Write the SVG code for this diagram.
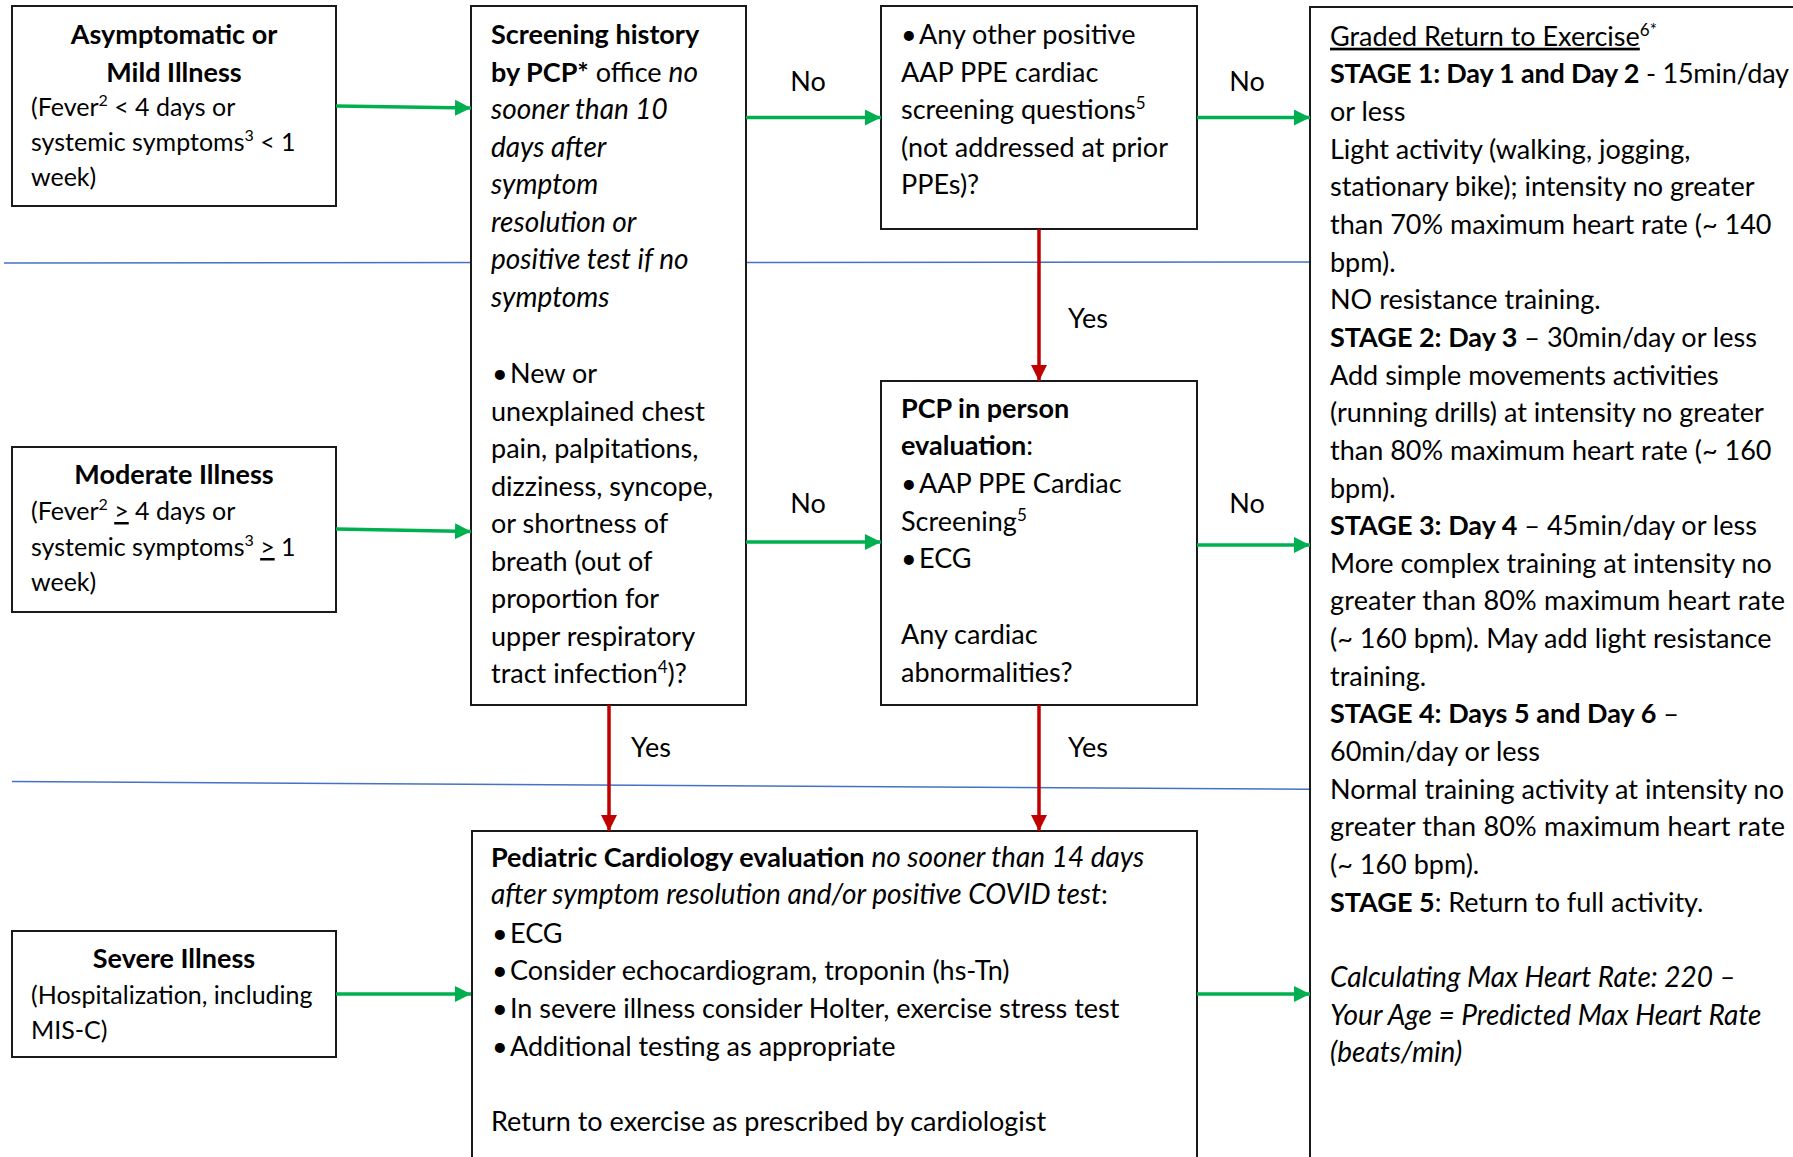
<svg xmlns="http://www.w3.org/2000/svg" width="1793" height="1157" viewBox="0 0 1793 1157">
<style>
  text { font-family: Lato, "Open Sans", sans-serif; font-size: 27px; fill: #000; }
  .b { font-weight: bold; }
  .i { font-style: italic; font-size: 28px; }
  .sm { font-size: 25px; }
  .box { fill: #fff; stroke: #1a1a1a; stroke-width: 2; }
  .blue { stroke: #4472C4; stroke-width: 1.5; fill: none; }
  .g { stroke: #00B050; stroke-width: 3.5; fill: none; marker-end: url(#ag); }
  .r { stroke: #C00000; stroke-width: 3.5; fill: none; marker-end: url(#ar); }
</style>
<defs>
  <marker id="ag" markerUnits="userSpaceOnUse" markerWidth="16" markerHeight="16" refX="16" refY="8" orient="auto">
    <path d="M0,0 L16,8 L0,16 Z" fill="#00B050"/>
  </marker>
  <marker id="ar" markerUnits="userSpaceOnUse" markerWidth="16" markerHeight="16" refX="16" refY="8" orient="auto">
    <path d="M0,0 L16,8 L0,16 Z" fill="#C00000"/>
  </marker>
</defs>
<rect width="1793" height="1157" fill="#fff"/>

<g id="guides">
  <line class="blue" x1="4" y1="263" x2="1310" y2="262"/>
  <line class="blue" x1="12" y1="781.5" x2="1310" y2="789.3"/>
</g>

<g id="node-mild">
  <rect class="box" x="12" y="6" width="324" height="200"/>
  <text class="b" x="174" y="44" text-anchor="middle">Asymptomatic or</text>
  <text class="b" x="174" y="82" text-anchor="middle">Mild Illness</text>
  <text class="sm" x="31" y="116">(Fever<tspan dy="-10" font-size="16">2</tspan><tspan dy="10"> &lt; 4 days or</tspan></text>
  <text class="sm" x="31" y="151">systemic symptoms<tspan dy="-10" font-size="16">3</tspan><tspan dy="10"> &lt; 1</tspan></text>
  <text class="sm" x="31" y="186">week)</text>
</g>

<g id="node-moderate">
  <rect class="box" x="12" y="447" width="324" height="165"/>
  <text class="b" x="174" y="484" text-anchor="middle">Moderate Illness</text>
  <text class="sm" x="31" y="520">(Fever<tspan dy="-10" font-size="16">2</tspan><tspan dy="10"> </tspan><tspan text-decoration="underline">&gt;</tspan> 4 days or</text>
  <text class="sm" x="31" y="556">systemic symptoms<tspan dy="-10" font-size="16">3</tspan><tspan dy="10"> </tspan><tspan text-decoration="underline">&gt;</tspan> 1</text>
  <text class="sm" x="31" y="591">week)</text>
</g>

<g id="node-severe">
  <rect class="box" x="12" y="931" width="324" height="126"/>
  <text class="b" x="174" y="968" text-anchor="middle">Severe Illness</text>
  <text class="sm" x="31" y="1004">(Hospitalization, including</text>
  <text class="sm" x="31" y="1039">MIS-C)</text>
</g>

<g id="node-screening">
  <rect class="box" x="471" y="6" width="275" height="699"/>
  <text class="b" x="491" y="44">Screening history</text>
  <text x="491" y="82"><tspan class="b">by PCP*</tspan> office <tspan class="i">no</tspan></text>
  <text class="i" x="491" y="119">sooner than 10</text>
  <text class="i" x="491" y="157">days after</text>
  <text class="i" x="491" y="194">symptom</text>
  <text class="i" x="491" y="232">resolution or</text>
  <text class="i" x="491" y="269">positive test if no</text>
  <text class="i" x="491" y="307">symptoms</text>
  <text x="492" y="383">•</text><text x="510" y="383">New or</text>
  <text x="491" y="421">unexplained chest</text>
  <text x="491" y="458">pain, palpitations,</text>
  <text x="491" y="496">dizziness, syncope,</text>
  <text x="491" y="533">or shortness of</text>
  <text x="491" y="571">breath (out of</text>
  <text x="491" y="608">proportion for</text>
  <text x="491" y="646">upper respiratory</text>
  <text x="491" y="683">tract infection<tspan dy="-10" font-size="17">4</tspan><tspan dy="10">)?</tspan></text>
</g>

<g id="node-ppe-questions">
  <rect class="box" x="881" y="6" width="316" height="223"/>
  <text x="901" y="44">•</text><text x="919" y="44">Any other positive</text>
  <text x="901" y="82">AAP PPE cardiac</text>
  <text x="901" y="119">screening questions<tspan dy="-10" font-size="17">5</tspan></text>
  <text x="901" y="157">(not addressed at prior</text>
  <text x="901" y="194">PPEs)?</text>
</g>

<g id="node-pcp-eval">
  <rect class="box" x="881" y="381" width="316" height="324"/>
  <text class="b" x="901" y="418">PCP in person</text>
  <text x="901" y="455"><tspan class="b">evaluation</tspan>:</text>
  <text x="901" y="493">•</text><text x="919" y="493">AAP PPE Cardiac</text>
  <text x="901" y="531">Screening<tspan dy="-10" font-size="17">5</tspan></text>
  <text x="901" y="568">•</text><text x="919" y="568">ECG</text>
  <text x="901" y="644">Any cardiac</text>
  <text x="901" y="682">abnormalities?</text>
</g>

<g id="node-cardiology">
  <rect class="box" x="472" y="831" width="725" height="340"/>
  <text x="491" y="867"><tspan class="b">Pediatric Cardiology evaluation</tspan> <tspan class="i">no sooner than 14 days</tspan></text>
  <text x="491" y="904"><tspan class="i">after symptom resolution and/or positive COVID test</tspan>:</text>
  <text x="492" y="943">•</text><text x="510" y="943">ECG</text>
  <text x="492" y="980">•</text><text x="510" y="980">Consider echocardiogram, troponin (hs-Tn)</text>
  <text x="492" y="1018">•</text><text x="510" y="1018">In severe illness consider Holter, exercise stress test</text>
  <text x="492" y="1056">•</text><text x="510" y="1056">Additional testing as appropriate</text>
  <text x="491" y="1131">Return to exercise as prescribed by cardiologist</text>
</g>

<g id="node-graded-return">
  <rect class="box" x="1310" y="7" width="500" height="1170"/>
  <text x="1330" y="45.7"><tspan text-decoration="underline">Graded Return to Exercise</tspan><tspan dy="-10" font-size="17">6*</tspan></text>
  <text x="1330" y="83.3" textLength="459"><tspan class="b">STAGE 1: Day 1 and Day 2</tspan> - 15min/day</text>
  <text x="1330" y="121">or less</text>
  <text x="1330" y="158.6">Light activity (walking, jogging,</text>
  <text x="1330" y="196.3">stationary bike); intensity no greater</text>
  <text x="1330" y="233.9">than 70% maximum heart rate (~ 140</text>
  <text x="1330" y="271.6">bpm).</text>
  <text x="1330" y="309.2">NO resistance training.</text>
  <text x="1330" y="346.9"><tspan class="b">STAGE 2: Day 3</tspan> – 30min/day or less</text>
  <text x="1330" y="384.5">Add simple movements activities</text>
  <text x="1330" y="422.2">(running drills) at intensity no greater</text>
  <text x="1330" y="459.8">than 80% maximum heart rate (~ 160</text>
  <text x="1330" y="497.5">bpm).</text>
  <text x="1330" y="535.1"><tspan class="b">STAGE 3: Day 4</tspan> – 45min/day or less</text>
  <text x="1330" y="572.8">More complex training at intensity no</text>
  <text x="1330" y="610.4" textLength="455">greater than 80% maximum heart rate</text>
  <text x="1330" y="648.1">(~ 160 bpm). May add light resistance</text>
  <text x="1330" y="685.7">training.</text>
  <text x="1330" y="723.4"><tspan class="b">STAGE 4: Days 5 and Day 6</tspan> –</text>
  <text x="1330" y="761">60min/day or less</text>
  <text x="1330" y="798.7" textLength="454">Normal training activity at intensity no</text>
  <text x="1330" y="836.3" textLength="455">greater than 80% maximum heart rate</text>
  <text x="1330" y="874">(~ 160 bpm).</text>
  <text x="1330" y="911.6"><tspan class="b">STAGE 5</tspan>: Return to full activity.</text>
  <text class="i" x="1330" y="986.9">Calculating Max Heart Rate: 220 –</text>
  <text class="i" x="1330" y="1024.6">Your Age = Predicted Max Heart Rate</text>
  <text class="i" x="1330" y="1062.2">(beats/min)</text>
</g>

<g id="connectors">
  <line class="g" x1="336" y1="106" x2="471" y2="108"/>
  <line class="g" x1="336" y1="529" x2="471" y2="531.5"/>
  <line class="g" x1="336" y1="994" x2="471" y2="994"/>
  <line class="g" x1="746" y1="117.5" x2="881" y2="117.5"/>
  <line class="g" x1="746" y1="542" x2="881" y2="542"/>
  <line class="g" x1="1197" y1="117.5" x2="1310" y2="117.5"/>
  <line class="g" x1="1197" y1="545" x2="1310" y2="545"/>
  <line class="g" x1="1197" y1="994" x2="1310" y2="994"/>
  <line class="r" x1="1039" y1="229" x2="1039" y2="381"/>
  <line class="r" x1="609" y1="705" x2="609" y2="831"/>
  <line class="r" x1="1039" y1="705" x2="1039" y2="831"/>
  <text x="808" y="91" text-anchor="middle">No</text>
  <text x="1247" y="91" text-anchor="middle">No</text>
  <text x="808" y="513" text-anchor="middle">No</text>
  <text x="1247" y="513" text-anchor="middle">No</text>
  <text x="1068" y="328">Yes</text>
  <text x="631" y="757">Yes</text>
  <text x="1068" y="757">Yes</text>
</g>
</svg>
